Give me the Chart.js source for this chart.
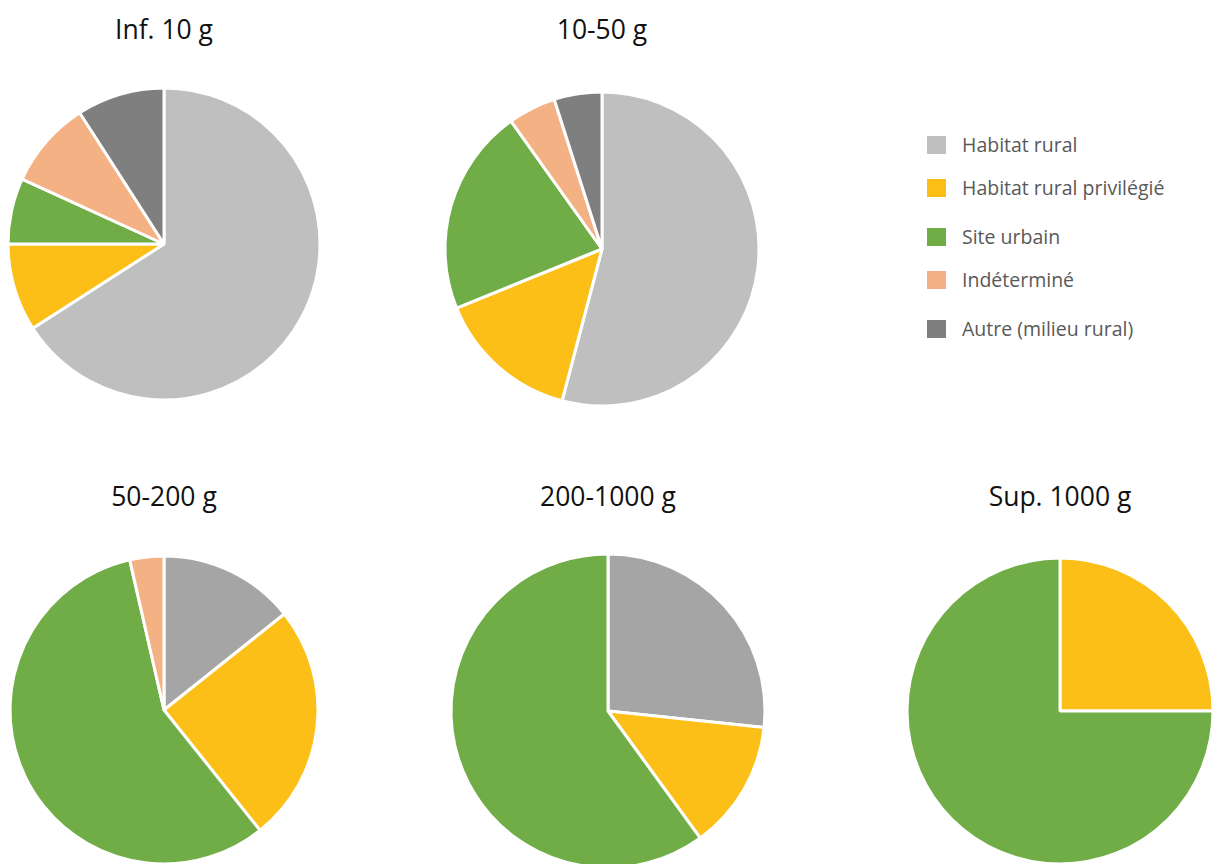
<!DOCTYPE html>
<html>
<head>
<meta charset="utf-8">
<script src="https://cdn.jsdelivr.net/npm/chart.js@4/dist/chart.umd.min.js"></script>
<style>
  html, body { margin:0; padding:0; width:1212px; height:864px; overflow:hidden; background:#fff; }
  #stage { position:relative; width:1212px; height:864px; overflow:hidden; }
  .pie { position:absolute; }
  .title { position:absolute; width:300px; text-align:center; font-family:"Open Sans", sans-serif; font-size:26.5px; color:#111; line-height:1; white-space:nowrap; }
  .leg { position:absolute; left:927px; font-family:"Open Sans", sans-serif; font-size:19.5px; color:#595959; white-space:nowrap; }
  .leg span.box { position:absolute; left:0; top:-9px; width:19px; height:18px; }
  .leg span.txt { position:absolute; left:35px; top:-14px; line-height:27px; }
</style>
</head>
<body>
<div id="stage"></div>
<script>
// ---- data ----
const categories = ["Habitat rural", "Habitat rural privilégié", "Site urbain", "Indéterminé", "Autre (milieu rural)"];
const chartTitles = ["Inf. 10 g", "10-50 g", "50-200 g", "200-1000 g", "Sup. 1000 g"];
const valuesInf10 = [29, 4, 3, 4, 4];
const values10to50 = [33, 9, 13, 3, 3];
const values50to200 = [4, 7, 16, 1, 0];
const values200to1000 = [4, 2, 9, 0, 0];
const valuesSup1000 = [0, 1, 3, 0, 0];
const seriesValues = [valuesInf10, values10to50, values50to200, values200to1000, valuesSup1000];

// ---- styles / layout ----
const colorsTop = ["#bfbfbf", "#fbbf18", "#70ad47", "#f4b183", "#7f7f7f"];
const colorsBottom = ["#a5a5a5", "#fbbf18", "#70ad47", "#f4b183", "#7f7f7f"];
const layout = [
  {cx:164, cy:244, r:156, ty:16, colors:colorsTop},
  {cx:602, cy:249, r:157, ty:16, colors:colorsTop},
  {cx:164, cy:710, r:154, ty:483, colors:colorsBottom},
  {cx:608, cy:711, r:157, ty:483, colors:colorsBottom},
  {cx:1060, cy:711, r:153, ty:483, colors:colorsBottom}
];
const legendY = [145, 188, 237, 280, 329];

const stage = document.getElementById('stage');

layout.forEach((L, i) => {
  const t = document.createElement('div');
  t.className = 'title';
  t.style.left = (L.cx - 150) + 'px';
  t.style.top = L.ty + 'px';
  t.textContent = chartTitles[i];
  stage.appendChild(t);

  const size = 2 * L.r + 10;
  const wrap = document.createElement('div');
  wrap.className = 'pie';
  wrap.style.left = (L.cx - size / 2) + 'px';
  wrap.style.top = (L.cy - size / 2) + 'px';
  wrap.style.width = size + 'px';
  wrap.style.height = size + 'px';
  const cv = document.createElement('canvas');
  cv.width = size; cv.height = size;
  wrap.appendChild(cv);
  stage.appendChild(wrap);

  new Chart(cv, {
    type: 'pie',
    data: {
      labels: categories,
      datasets: [{
        data: seriesValues[i],
        backgroundColor: L.colors,
        borderColor: '#ffffff',
        borderWidth: 3
      }]
    },
    options: {
      responsive: false,
      maintainAspectRatio: false,
      animation: false,
      radius: L.r,
      layout: { padding: 0 },
      plugins: { legend: { display: false }, tooltip: { enabled: false }, title: { display: false } }
    }
  });
});

categories.forEach((c, i) => {
  const d = document.createElement('div');
  d.className = 'leg';
  d.style.top = legendY[i] + 'px';
  const b = document.createElement('span');
  b.className = 'box';
  b.style.background = colorsTop[i];
  const tx = document.createElement('span');
  tx.className = 'txt';
  tx.textContent = c;
  d.appendChild(b); d.appendChild(tx);
  stage.appendChild(d);
});
</script>
</body>
</html>
